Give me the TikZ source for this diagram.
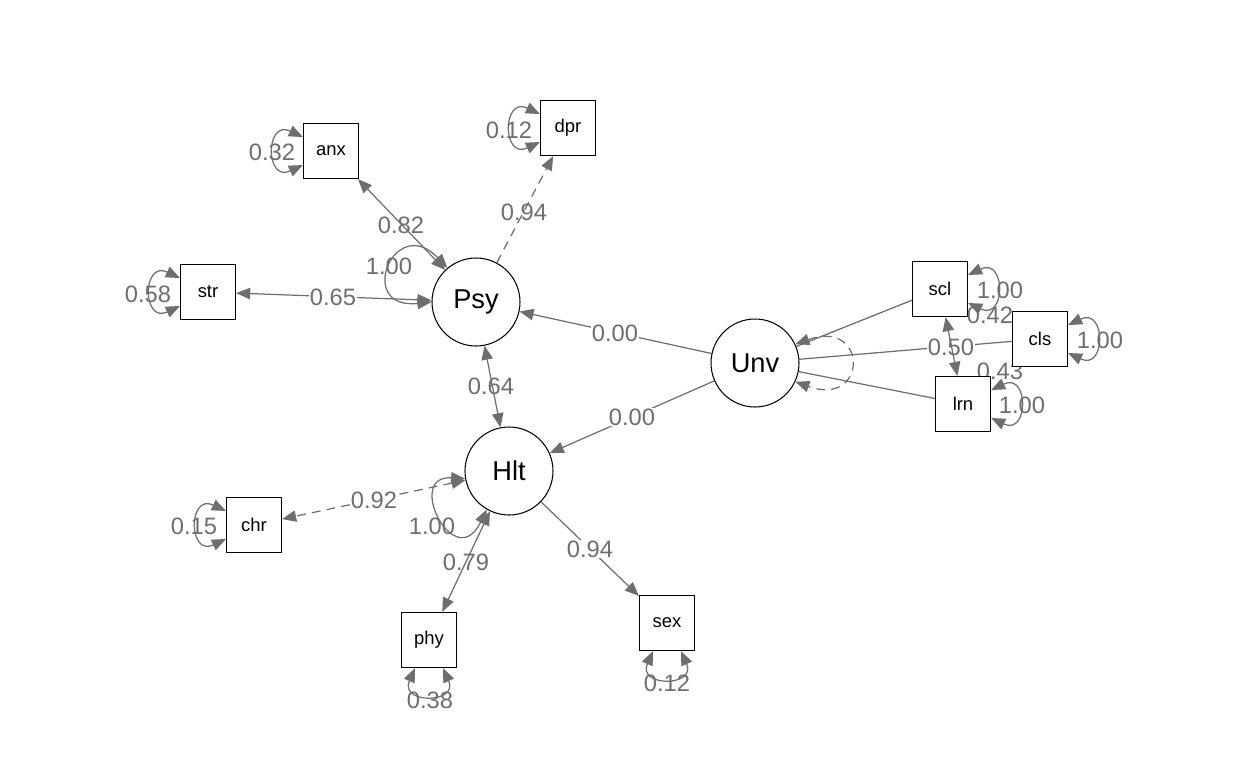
\documentclass[tikz,border=0pt]{standalone}
\usepackage{fontspec}
\setmainfont{Liberation Sans}
\usetikzlibrary{arrows.meta,calc}
\definecolor{edgegray}{RGB}{110,110,110}
\pgfdeclarelayer{background}
\pgfsetlayers{background,main}
\tikzset{
  lat/.style={circle,draw=black,line width=0.6pt,fill=white,minimum size=1.76cm,inner sep=0pt,font=\fontsize{15.5}{18}\selectfont},
  obs/.style={rectangle,draw=black,line width=0.7pt,fill=white,minimum size=1.1cm,inner sep=0pt,font=\fontsize{10.5}{12}\selectfont},
  edge/.style={draw=edgegray,line width=0.7pt},
  dashedge/.style={edge,dash pattern=on 5pt off 3.5pt},
  elab/.style={text=edgegray,font=\fontsize{13.5}{15}\selectfont,inner sep=0.5pt},
  flab/.style={elab,fill=white}
}
\begin{document}
\begin{tikzpicture}[x=0.02cm,y=-0.02cm,>={Triangle[length=8pt,width=6.5pt]}]
\useasboundingbox (0,0) rectangle (1248,768);
% latent variables
\node[lat] (Psy) at (476,302) {Psy};
\node[lat] (Hlt) at (509,471) {Hlt};
\node[lat] (Unv) at (755,363) {Unv};
% observed variables
\node[obs] (anx) at (331,151) {anx};
\node[obs] (dpr) at (568,128) {dpr};
\node[obs] (str) at (208,292) {str};
\node[obs] (chr) at (254,525) {chr};
\node[obs] (phy) at (429,640) {phy};
\node[obs] (sex) at (667,623) {sex};
\node[obs] (scl) at (940,289) {scl};
\node[obs] (cls) at (1040,339) {cls};
\node[obs] (lrn) at (963,404) {lrn};

\begin{pgfonlayer}{background}
% edges
\draw[edge,<->] (anx) -- (Psy);
\draw[dashedge,->] (Psy) -- (dpr);
\draw[edge,<->] (str) -- (Psy);
\draw[edge,<->] (Psy) -- (Hlt);
\draw[edge,->] (Unv) -- (Psy);
\draw[edge,->] (Unv) -- (Hlt);
\draw[dashedge,<->] (Hlt) -- (chr);
\draw[edge,<->] (Hlt) -- (phy);
\draw[edge,->] (Hlt) -- (sex);
\draw[edge] (scl) -- (Unv);
\draw[edge] (cls) -- (Unv);
\draw[edge] (lrn) -- (Unv);

% latent variance loops
\draw[edge,<->] (Psy.130) .. controls +(-53,-56) and +(-77,8) .. (Psy.180);
\draw[edge,<->] (Hlt.190) .. controls +(-61,-4) and +(-32,66) .. (Hlt.240);
\draw[dashedge,<->] (Unv.25) .. controls +(73,-26) and +(73,26) .. (Unv.-25);

% residual loops (left side)
\foreach \n in {anx,dpr,str,chr}{
  \draw[edge,<->] ($(\n.west)+(0,-14)$) .. controls +(-38,-18) and +(-38,18) .. ($(\n.west)+(0,14)$);
}
% residual loops (right side)
\foreach \n in {scl,cls,lrn}{
  \draw[edge,<->] ($(\n.east)+(0,-14)$) .. controls +(38,-18) and +(38,18) .. ($(\n.east)+(0,14)$);
}
% residual loops (below)
\foreach \n in {phy,sex}{
  \draw[edge,<->] ($(\n.south)+(-14,0)$) .. controls +(-16,36) and +(16,36) .. ($(\n.south)+(14,0)$);
}

% labels
\node[elab] (l82) at (401,225) {0.82};
\node[elab] (l94a) at (524,212) {0.94};
\node[flab] (l65) at (333,297) {0.65};
\node[elab] (l100p) at (389,266) {1.00};
\node[elab] (l64) at (491,386) {0.64};
\node[flab] (l00a) at (615,333) {0.00};
\node[flab] (l00b) at (632,417) {0.00};
\node[flab] (l92) at (374,500) {0.92};
\node[elab] (l100h) at (432,526) {1.00};
\node[elab] (l79) at (466,562) {0.79};
\node[flab] (l94b) at (590,549) {0.94};
\node[elab] (l32) at (272,152) {0.32};
\node[elab] (l12a) at (509,130) {0.12};
\node[elab] (l58) at (148,294) {0.58};
\node[elab] (l15) at (194,526) {0.15};
\node[elab] (l38) at (430,700) {0.38};
\node[elab] (l12b) at (667,683) {0.12};
\node[elab] (l100s) at (1000,290) {1.00};
\node[elab] (l100c) at (1100,340) {1.00};
\node[elab] (l100l) at (1022,405) {1.00};
\node[elab] (l42) at (990,315) {0.42};
\node[flab] (l50) at (951,347) {0.50};
\node[elab] (l43) at (1000,371) {0.43};

\draw[edge,<->] (scl) -- (lrn);
\end{pgfonlayer}
\end{tikzpicture}
\end{document}
